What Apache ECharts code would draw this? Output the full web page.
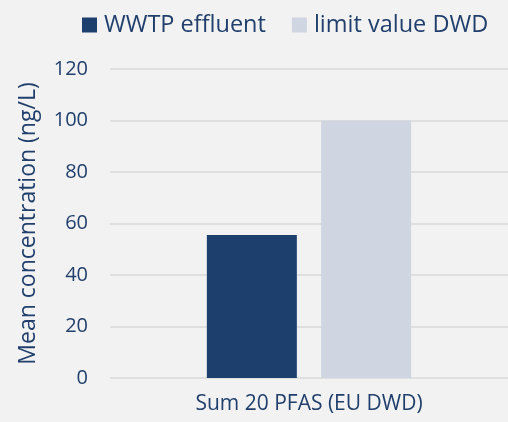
<!DOCTYPE html>
<html>
<head>
<meta charset="utf-8">
<script src="https://cdn.jsdelivr.net/npm/echarts@6/dist/echarts.min.js"></script>
<style>
  html, body { margin: 0; padding: 0; background: #f2f2f2; }
  #chart { width: 508px; height: 422px; }
</style>
</head>
<body>
<div id="chart"></div>
<script>
let categories = ['Sum 20 PFAS (EU DWD)'];
let effluent = [55.5];
let limitValue = [100];
let seriesNames = ['WWTP effluent', 'limit value DWD'];

let textColor = '#203f6c';
let font = 'Open Sans';

let chart = echarts.init(document.getElementById('chart'));
chart.setOption({
  backgroundColor: '#f2f2f2',
  animation: false,
  textStyle: { fontFamily: font },
  legend: {
    top: 8,
    left: 77,
    itemWidth: 15,
    itemHeight: 15,
    itemGap: 26,
    icon: 'rect',
    textStyle: {
      color: textColor,
      fontSize: 23.5,
      fontFamily: font,
      padding: [0, 0, 0, 2]
    },
    data: seriesNames
  },
  grid: { top: 69, bottom: 44, left: 110, right: 0 },
  xAxis: {
    type: 'category',
    data: categories,
    axisLine: { show: false },
    axisTick: { show: false },
    axisLabel: { color: textColor, fontSize: 21, margin: 16, fontFamily: font }
  },
  yAxis: {
    type: 'value',
    min: 0,
    max: 120,
    interval: 20,
    name: 'Mean concentration (ng/L)',
    nameLocation: 'middle',
    nameGap: 70,
    nameTextStyle: { color: textColor, fontSize: 23, fontFamily: font },
    axisLine: { show: false },
    axisTick: { show: false },
    axisLabel: { color: textColor, fontSize: 20, margin: 22, fontFamily: font },
    splitLine: { lineStyle: { color: '#d9d9d9', width: 1.5 } }
  },
  series: [
    {
      name: seriesNames[0],
      type: 'bar',
      data: effluent,
      barWidth: 90,
      barGap: '27%',
      itemStyle: { color: '#1c3f6e' }
    },
    {
      name: seriesNames[1],
      type: 'bar',
      data: limitValue,
      barWidth: 90,
      itemStyle: { color: '#cfd6e1' }
    }
  ]
});
</script>
</body>
</html>
